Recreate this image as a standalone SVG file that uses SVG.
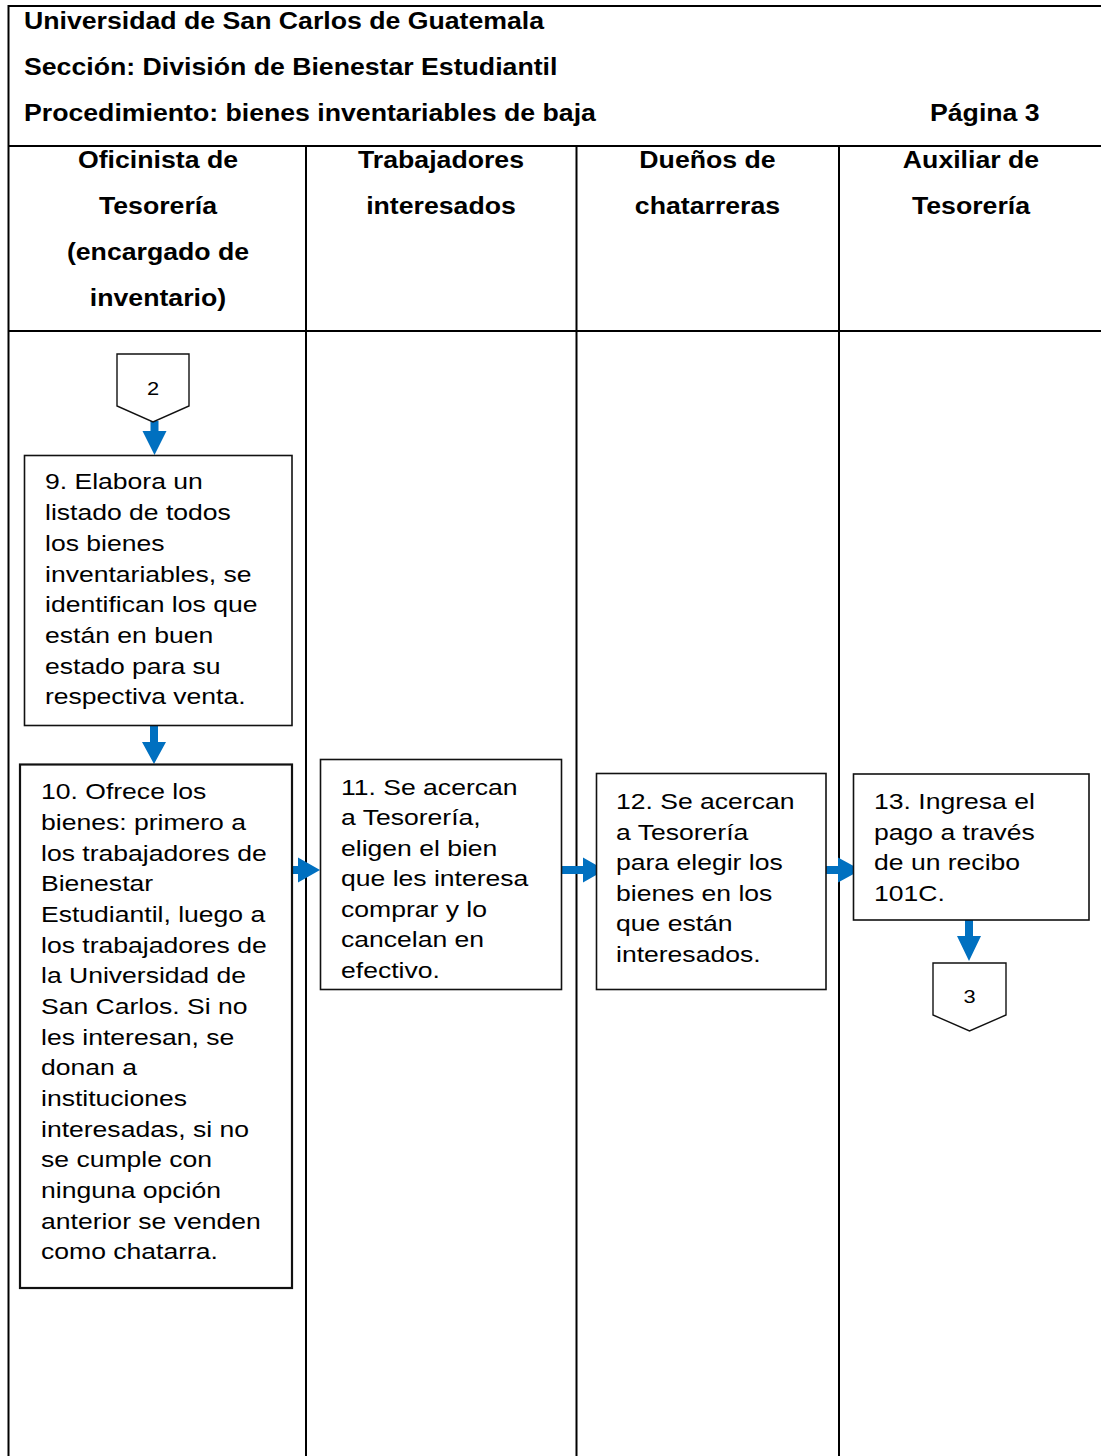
<svg xmlns="http://www.w3.org/2000/svg" width="1101" height="1456" viewBox="0 0 1101 1456">
  <style>
    .lane { stroke: #000; stroke-width: 2; fill: none; }
    .box { fill: #fff; stroke: #111; stroke-width: 1.6; }
    .conn { fill: #fff; stroke: #111; stroke-width: 1.4; }
    .flow { fill: #0070C0; stroke: none; }
    .hd { font-family: "Liberation Sans", Arial, sans-serif; font-weight: bold; font-size: 23px; fill: #000; }
    .tx { font-family: "Liberation Sans", Arial, sans-serif; font-size: 22.5px; fill: #000; }
    .num { font-family: "Liberation Sans", Arial, sans-serif; font-size: 19px; fill: #000; text-anchor: middle; }
  </style>

  <rect x="0" y="0" width="1101" height="1456" fill="#fff"/>

  <!-- table frame and swimlanes -->
  <g id="frame">
    <line class="lane" x1="8.5" y1="6" x2="1101" y2="6"/>
    <line class="lane" x1="8.5" y1="5" x2="8.5" y2="1456"/>
    <line class="lane" x1="8.5" y1="146" x2="1101" y2="146"/>
    <line class="lane" x1="8.5" y1="331" x2="1101" y2="331"/>
    <line class="lane" x1="306" y1="146" x2="306" y2="1456"/>
    <line class="lane" x1="576.5" y1="146" x2="576.5" y2="1456"/>
    <line class="lane" x1="839" y1="146" x2="839" y2="1456"/>
  </g>

  <!-- document heading -->
  <g id="heading">
    <g transform="translate(24 0) scale(1.16 1)">
      <text class="hd"><tspan x="0" y="29">Universidad de San Carlos de Guatemala</tspan><tspan x="0" y="75">Sección: División de Bienestar Estudiantil</tspan><tspan x="0" y="121">Procedimiento: bienes inventariables de baja</tspan></text>
    </g>
    <g transform="translate(930 0) scale(1.16 1)">
      <text class="hd" x="0" y="121">Página 3</text>
    </g>
  </g>

  <!-- lane titles -->
  <g id="lane-titles">
    <g transform="translate(158 0) scale(1.16 1)">
      <text class="hd" text-anchor="middle"><tspan x="0" y="168.5">Oficinista de</tspan><tspan x="0" y="214.5">Tesorería</tspan><tspan x="0" y="260.5">(encargado de</tspan><tspan x="0" y="306.5">inventario)</tspan></text>
    </g>
    <g transform="translate(441 0) scale(1.16 1)">
      <text class="hd" text-anchor="middle"><tspan x="0" y="168.5">Trabajadores</tspan><tspan x="0" y="214.5">interesados</tspan></text>
    </g>
    <g transform="translate(707.5 0) scale(1.16 1)">
      <text class="hd" text-anchor="middle"><tspan x="0" y="168.5">Dueños de</tspan><tspan x="0" y="214.5">chatarreras</tspan></text>
    </g>
    <g transform="translate(971 0) scale(1.16 1)">
      <text class="hd" text-anchor="middle"><tspan x="0" y="168.5">Auxiliar de</tspan><tspan x="0" y="214.5">Tesorería</tspan></text>
    </g>
  </g>

  <!-- flow arrows -->
  <g id="connectors">
    <polygon class="flow" points="150.5,421 158.5,421 158.5,431 166.5,431 154.5,455 142.5,431 150.5,431"/>
    <polygon class="flow" points="150,726 158,726 158,742 166,742 154,764 142,742 150,742"/>
    <polygon class="flow" points="292,866 298,866 298,857.5 320,870 298,882.5 298,874 292,874"/>
    <polygon class="flow" points="561,866 583,866 583,857.5 605,870 583,882.5 583,874 561,874"/>
    <polygon class="flow" points="826,866 838,866 838,857.5 861,870 838,882.5 838,874 826,874"/>
    <polygon class="flow" points="965,920 973,920 973,936 981,936 969,961 957,936 965,936"/>
  </g>

  <!-- off-page connector 2 -->
  <g id="connector-2">
    <polygon class="conn" points="117,354 189,354 189,406 153,422 117,406"/>
    <g transform="translate(153 0) scale(1.15 1)"><text class="num" x="0" y="395">2</text></g>
  </g>

  <!-- step 9 -->
  <g id="step-9">
    <rect class="box" x="24.5" y="455.5" width="267.5" height="270"/>
    <g transform="translate(45 0) scale(1.18 1)">
      <text class="tx"><tspan x="0" y="489.5">9. Elabora un</tspan><tspan x="0" y="520.2">listado de todos</tspan><tspan x="0" y="550.9">los bienes</tspan><tspan x="0" y="581.6">inventariables, se</tspan><tspan x="0" y="612.3">identifican los que</tspan><tspan x="0" y="643">están en buen</tspan><tspan x="0" y="673.7">estado para su</tspan><tspan x="0" y="704.4">respectiva venta.</tspan></text>
    </g>
  </g>

  <!-- step 10 -->
  <g id="step-10">
    <rect class="box" x="20" y="764.5" width="272" height="523.5" style="stroke-width:2.2"/>
    <g transform="translate(41 0) scale(1.18 1)">
      <text class="tx"><tspan x="0" y="799.5">10. Ofrece los</tspan><tspan x="0" y="830.1">bienes: primero a</tspan><tspan x="0" y="860.8">los trabajadores de</tspan><tspan x="0" y="891.4">Bienestar</tspan><tspan x="0" y="922.1">Estudiantil, luego a</tspan><tspan x="0" y="952.7">los trabajadores de</tspan><tspan x="0" y="983.4">la Universidad de</tspan><tspan x="0" y="1014">San Carlos. Si no</tspan><tspan x="0" y="1044.7">les interesan, se</tspan><tspan x="0" y="1075.3">donan a</tspan><tspan x="0" y="1106">instituciones</tspan><tspan x="0" y="1136.6">interesadas, si no</tspan><tspan x="0" y="1167.3">se cumple con</tspan><tspan x="0" y="1197.9">ninguna opción</tspan><tspan x="0" y="1228.6">anterior se venden</tspan><tspan x="0" y="1259.2">como chatarra.</tspan></text>
    </g>
  </g>

  <!-- step 11 -->
  <g id="step-11">
    <rect class="box" x="320.5" y="759.5" width="241" height="230"/>
    <g transform="translate(341 0) scale(1.18 1)">
      <text class="tx"><tspan x="0" y="795">11. Se acercan</tspan><tspan x="0" y="825.5">a Tesorería,</tspan><tspan x="0" y="856">eligen el bien</tspan><tspan x="0" y="886.5">que les interesa</tspan><tspan x="0" y="917">comprar y lo</tspan><tspan x="0" y="947.5">cancelan en</tspan><tspan x="0" y="978">efectivo.</tspan></text>
    </g>
  </g>

  <!-- step 12 -->
  <g id="step-12">
    <rect class="box" x="596.5" y="773.5" width="229.5" height="216"/>
    <g transform="translate(616 0) scale(1.18 1)">
      <text class="tx"><tspan x="0" y="809.5">12. Se acercan</tspan><tspan x="0" y="840">a Tesorería</tspan><tspan x="0" y="870.5">para elegir los</tspan><tspan x="0" y="901">bienes en los</tspan><tspan x="0" y="931.5">que están</tspan><tspan x="0" y="962">interesados.</tspan></text>
    </g>
  </g>

  <!-- step 13 -->
  <g id="step-13">
    <rect class="box" x="853.5" y="774" width="235.5" height="146"/>
    <g transform="translate(874 0) scale(1.18 1)">
      <text class="tx"><tspan x="0" y="809.5">13. Ingresa el</tspan><tspan x="0" y="840">pago a través</tspan><tspan x="0" y="870.5">de un recibo</tspan><tspan x="0" y="901">101C.</tspan></text>
    </g>
  </g>

  <!-- off-page connector 3 -->
  <g id="connector-3">
    <polygon class="conn" points="933,963 1006,963 1006,1015 969.5,1031 933,1015"/>
    <g transform="translate(969.5 0) scale(1.15 1)"><text class="num" x="0" y="1003">3</text></g>
  </g>
</svg>
